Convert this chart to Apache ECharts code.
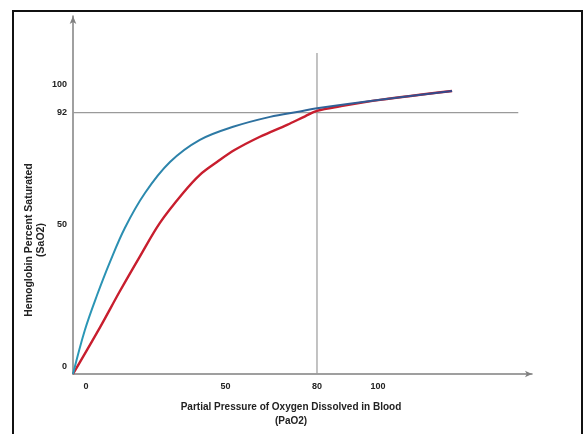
<!DOCTYPE html>
<html>
<head>
<meta charset="utf-8">
<script src="https://cdn.jsdelivr.net/npm/echarts@6/dist/echarts.min.js"></script>
<style>
html,body{margin:0;padding:0;background:#fff;}
#c{width:585px;height:434px;}
</style>
</head>
<body>
<div id="c"></div>
<script>
// Tick labels
const xTicks = [0, 50, 80, 100];
const yTicks = [0, 50, 92, 100];

// Blue curve (PaO2, Sat%)
const blueX = [0, 3.9, 7.9, 12.1, 17.0, 23.6, 31.8, 41.6, 52.5, 64.6, 74.4, 80, 100.7, 124.3];
const blueY = [0, 15.5, 27.8, 39.4, 51.4, 63.7, 74.6, 82.4, 87.0, 90.5, 92.4, 93.5, 96.5, 99.6];

// Red curve
const redX = [0, 8.9, 15.4, 22.0, 28.5, 36.1, 41.6, 47.2, 53.1, 61.3, 70.2, 76.1, 80, 87.5, 100.7, 124.3];
const redY = [0, 16.5, 29.2, 41.5, 53.2, 63.7, 70.1, 74.6, 78.9, 83.5, 87.7, 90.7, 92.6, 94.2, 96.5, 99.6];

// Reference lines
const hRefX = [0, 146];
const hRefY = [92, 92];
const vRefX = [80, 80];
const vRefY = [0, 113];

const zip = (a, b) => a.map((v, i) => [v, b[i]]);

const chart = echarts.init(document.getElementById('c'), null, {renderer: 'canvas'});
const F = 'Liberation Sans, Arial, sans-serif';
const tl = {fontSize: 9, fontWeight: 'bold', color: '#222', fontFamily: F};
chart.setOption({
  animation: false,
  backgroundColor: '#fff',
  grid: {left: 73, right: 53, top: 16, bottom: 60},
  xAxis: {
    type: 'value', min: 0, max: 150.5,
    splitLine: {show: false},
    axisLine: {lineStyle: {color: '#808080', width: 1.5}, symbol: ['none', 'arrow'], symbolSize: [5, 7]},
    axisTick: {show: false},
    axisLabel: {
      customValues: xTicks, margin: 8,
      formatter: v => v === 0 ? '{s|0}' : '{n|' + v + '}',
      rich: {
        s: Object.assign({}, tl, {padding: [0, 0, 0, 26]}),
        n: Object.assign({}, tl)
      }
    }
  },
  yAxis: {
    type: 'value', min: 0, max: 126,
    splitLine: {show: false},
    axisLine: {lineStyle: {color: '#808080', width: 1.5}, symbol: ['none', 'arrow'], symbolSize: [5, 8]},
    axisTick: {show: false},
    axisLabel: {
      customValues: yTicks, margin: 6,
      formatter: v => v === 92 ? '{n|92}' : (v === 100 ? '{t|100}' : '{u|' + v + '}'),
      rich: {
        u: Object.assign({}, tl, {padding: [0, 0, 14, 0]}),
        t: Object.assign({}, tl, {padding: [0, 0, 10, 0]}),
        n: Object.assign({}, tl)
      }
    }
  },
  series: [
    {type: 'line', data: zip(hRefX, hRefY), symbol: 'none', silent: true,
     lineStyle: {color: '#9a9a9a', width: 1.2}},
    {type: 'line', data: zip(vRefX, vRefY), symbol: 'none', silent: true,
     lineStyle: {color: '#9a9a9a', width: 1.2}},
    {type: 'line', data: zip(redX, redY), symbol: 'none', smooth: 0.35,
     lineStyle: {color: '#c81e2e', width: 2.4}},
    {type: 'line', data: zip(blueX, blueY), symbol: 'none', smooth: 0.35,
     lineStyle: {width: 2, color: new echarts.graphic.LinearGradient(0, 0, 1, 0, [
       {offset: 0, color: '#2a9ab8'}, {offset: 0.5, color: '#2e6f9e'}, {offset: 1, color: '#34468a'}
     ])}}
  ],
  graphic: [
    {type: 'rect', shape: {x: 13, y: 11, width: 569, height: 440},
     style: {fill: 'none', stroke: '#111', lineWidth: 2}, silent: true},
    {type: 'text', x: 291, y: 407, style: {text: 'Partial Pressure of Oxygen Dissolved in Blood',
      font: 'bold 10px ' + F, fill: '#222', align: 'center', verticalAlign: 'middle'}},
    {type: 'text', x: 291, y: 421, style: {text: '(PaO2)',
      font: 'bold 10px ' + F, fill: '#222', align: 'center', verticalAlign: 'middle'}},
    {type: 'text', x: 29, y: 240, rotation: Math.PI / 2, style: {text: 'Hemoglobin Percent Saturated',
      font: 'bold 10.5px ' + F, fill: '#222', align: 'center', verticalAlign: 'middle'}},
    {type: 'text', x: 41, y: 240, rotation: Math.PI / 2, style: {text: '(SaO2)',
      font: 'bold 10.5px ' + F, fill: '#222', align: 'center', verticalAlign: 'middle'}}
  ]
});
</script>
</body>
</html>
